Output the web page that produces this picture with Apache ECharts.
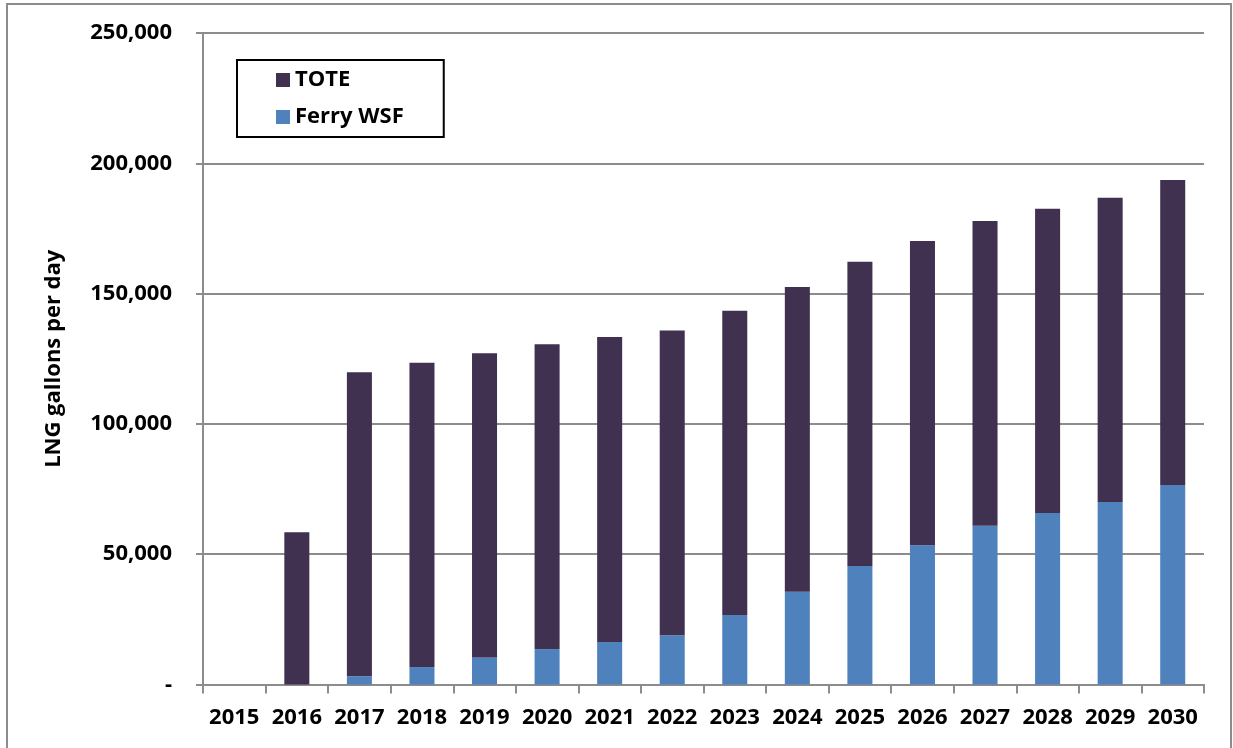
<!DOCTYPE html>
<html>
<head>
<meta charset="utf-8">
<script src="https://cdn.jsdelivr.net/npm/echarts@6/dist/echarts.min.js"></script>
<style>
  html, body { margin: 0; padding: 0; background: #fff; }
  #chart { width: 1233px; height: 748px; }
</style>
</head>
<body>
<div id="chart"></div>
<script>
// years on the x axis
var years = ['2015', '2016', '2017', '2018', '2019', '2020', '2021', '2022',
  '2023', '2024', '2025', '2026', '2027', '2028', '2029', '2030'];
// LNG gallons per day
var ferryWSF = [0, 0, 3150, 6700, 10400, 13600, 16300, 18900,
  26700, 35600, 45500, 53400, 60900, 65800, 70000, 76600];
var tote = [0, 58400, 116700, 116800, 116700, 117000, 117000, 116900,
  116700, 116900, 116700, 116800, 117000, 116800, 116800, 117000];
var yTicks = [0, 50000, 100000, 150000, 200000, 250000];

var font = '"Open Sans", "DejaVu Sans", sans-serif';
var grey = '#8c8c8c';

var chart = echarts.init(document.getElementById('chart'));

var options = {
  animation: false,
  backgroundColor: '#fff',
  textStyle: { fontFamily: font },
  grid: { left: 203, right: 29, top: 33, bottom: 63.5 },
  graphic: [{
    type: 'rect',
    shape: { x: 7, y: 4, width: 1224, height: 780 },
    style: { fill: 'none', stroke: grey, lineWidth: 2 },
    silent: true
  }],
  legend: {
    data: ['TOTE', 'Ferry WSF'],
    orient: 'vertical',
    left: 237,
    top: 60,
    padding: [9, 40, 9, 39],
    itemGap: 15,
    itemWidth: 14,
    itemHeight: 14,
    icon: 'rect',
    borderColor: '#000',
    borderWidth: 2,
    textStyle: { fontFamily: font, fontSize: 22, fontWeight: 'bold', color: '#000', lineHeight: 22 }
  },
  xAxis: {
    type: 'category',
    data: years,
    axisLine: { lineStyle: { color: grey, width: 2 } },
    axisTick: { show: true, length: 9, lineStyle: { color: grey, width: 2 } },
    axisLabel: { interval: 0, margin: 22, fontFamily: font, fontSize: 22, fontWeight: 'bold', color: '#000' }
  },
  yAxis: {
    type: 'value',
    min: yTicks[0],
    max: yTicks[yTicks.length - 1],
    interval: yTicks[1] - yTicks[0],
    name: 'LNG gallons per day',
    nameLocation: 'middle',
    nameGap: 138,
    nameTextStyle: { fontFamily: font, fontSize: 22, fontWeight: 'bold', color: '#000' },
    axisLine: { show: true, lineStyle: { color: grey, width: 2 } },
    axisTick: { show: true, length: 7, lineStyle: { color: grey, width: 2 } },
    splitLine: { lineStyle: { color: grey, width: 2 } },
    axisLabel: {
      margin: 31,
      fontFamily: font,
      fontSize: 22,
      fontWeight: 'bold',
      color: '#000',
      formatter: function (v) {
        if (v === 0) return '-';
        return String(v).replace(/\B(?=(\d{3})+(?!\d))/g, ',');
      }
    }
  },
  series: [{
    name: 'Ferry WSF',
    type: 'bar',
    stack: 'lng',
    barWidth: '40%',
    data: ferryWSF,
    itemStyle: { color: '#4f81bd' }
  }, {
    name: 'TOTE',
    type: 'bar',
    stack: 'lng',
    barWidth: '40%',
    data: tote,
    itemStyle: { color: '#403151' }
  }]
};

chart.setOption(options);
</script>
</body>
</html>
